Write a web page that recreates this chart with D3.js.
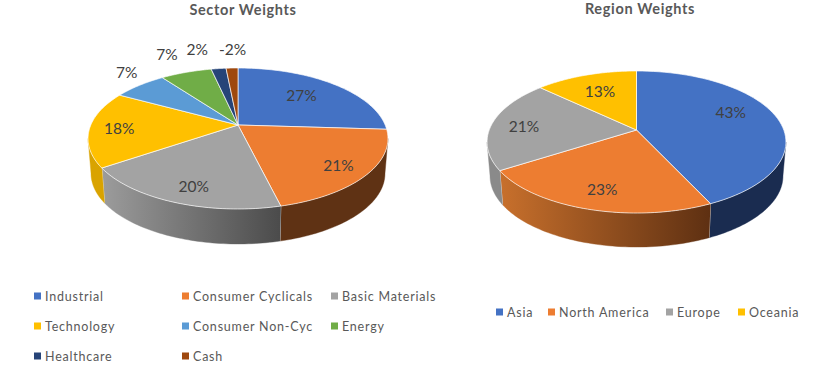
<!DOCTYPE html>
<html><head><meta charset="utf-8">
<script src="https://cdnjs.cloudflare.com/ajax/libs/d3/7.8.5/d3.min.js"></script>
<style>html,body{margin:0;padding:0;background:#fff}svg{display:block}</style>
</head><body><svg id="c" width="819" height="372"></svg>
<script>
const sectorNames = ["Industrial","Consumer Cyclicals","Basic Materials","Technology","Consumer Non-Cyc","Energy","Healthcare","Cash"];
const sectorValues = [27,21,20,18.2,7.2,6.9,2,-1.6];
const sectorColors = ["#4472C4","#ED7D31","#A3A3A3","#FFC000","#5B9BD5","#70AD47","#264478","#9E480E"];
const regionNames = ["Asia","North America","Europe","Oceania"];
const regionValues = [43,23,21,13];
const regionColors = ["#4472C4","#ED7D31","#A3A3A3","#FFC000"];

const svg = d3.select("#c");
const defs = svg.append("defs");
const TAU = 2*Math.PI;
const fmt = v => Math.round(v) + "%";

function grad(id, x1, x2, c1, c2){
  const g = defs.append("linearGradient").attr("id",id).attr("gradientUnits","userSpaceOnUse")
    .attr("x1",x1).attr("x2",x2).attr("y1",0).attr("y2",0);
  g.append("stop").attr("offset",0).attr("stop-color",c1);
  g.append("stop").attr("offset",1).attr("stop-color",c2);
  return `url(#${id})`;
}

function pie3d(o){
  const g = svg.append("g");
  const k = o.k, a = o.a, R = o.R;
  const proj = t => { const w = 1/(1+k*Math.cos(t)); return [o.cx+R*Math.sin(t)*w, o.cy-a*Math.cos(t)*w]; };
  const low = t => { const p = proj(t); return [o.cx+(p[0]-o.cx)*o.shrink, p[1]+o.depth]; };
  const line = d3.line();
  const arcs = d3.pie().sort(null).value(d=>Math.abs(d))(o.values);
  const samples = (s,e) => d3.range(0,61).map(i => s+(e-s)*i/60);
  const t0 = Math.acos(-k), t1 = TAU-t0;

  // walls
  arcs.forEach((d,i)=>{
    const s = Math.max(d.startAngle,t0), e = Math.min(d.endAngle,t1);
    if(e<=s) return;
    const ts = samples(s,e);
    const pts = ts.map(proj).concat(ts.slice().reverse().map(low));
    const fill = o.wall(i,proj(s)[0],proj(e)[0]);
    g.append("path").attr("d",line(pts)+"Z").attr("fill",fill)
      .attr("stroke",fill).attr("stroke-width",0.4);
    if(d.endAngle>t0 && d.endAngle<t1){
      g.append("path").attr("d",line([proj(d.endAngle),low(d.endAngle)]))
        .attr("stroke","#e8e8e8").attr("stroke-width",1).attr("fill","none");
    }
  });
  // top
  arcs.forEach((d,i)=>{
    const pts = [[o.cx,o.cy]].concat(samples(d.startAngle,d.endAngle).map(proj));
    g.append("path").attr("d",line(pts)+"Z").attr("fill",o.colors[i])
      .attr("stroke","#fff").attr("stroke-width",0.8).attr("stroke-linejoin","round").attr("stroke-opacity",0.85);
  });
  // labels
  arcs.forEach((d,i)=>{
    const m = (d.startAngle+d.endAngle)/2, p = proj(m), f = o.place[i];
    g.append("text").attr("x",o.cx+(p[0]-o.cx)*f[0]).attr("y",o.cy+(p[1]-o.cy)*f[1])
      .attr("text-anchor","middle").attr("dominant-baseline","central")
      .attr("font-family","Lato").attr("font-size",15.5).attr("fill","#404040")
      .text(fmt(o.values[i]));
  });
  svg.append("text").attr("x",o.titleX).attr("y",o.titleY).attr("text-anchor","middle")
    .attr("dominant-baseline","central").attr("font-family","Lato").attr("font-weight",700)
    .attr("font-size",14.5).attr("letter-spacing",0.65).attr("fill","#595959").text(o.title);
}

function legend(names, colors, xs, ys){
  names.forEach((n,i)=>{
    const x = xs[i], y = ys[i];
    svg.append("rect").attr("x",x).attr("y",y-3.5).attr("width",7).attr("height",7).attr("fill",colors[i]);
    svg.append("text").attr("x",x+11).attr("y",y).attr("dominant-baseline","central")
      .attr("font-family","Lato").attr("font-size",12.5).attr("letter-spacing",0.78).attr("fill","#595959").text(n);
  });
}

pie3d({values:sectorValues, colors:sectorColors, cx:238, cy:125, R:147.2, a:67.9, k:0.1915, depth:35, shrink:0.98,
  place:[[0.67,0.72],[0.78,0.8],[0.69,0.79],[0.8,1],[1.13,1.33],[1.37,1.34],[2.1,1.34],[0.92,1.33]],
  wall:(i,a,b)=> i===2 ? grad("w2",b,a,"#9c9c9c","#4b4b4b") : i===3 ? "#d9a300" : i===1 ? "#5f3214" : "#1b2c50",
  title:"Sector Weights", titleX:243, titleY:9});
pie3d({values:regionValues, colors:regionColors, cx:636.5, cy:130, R:147.3, a:69, k:0.169, depth:34, shrink:0.98,
  place:[[0.68,1.24],[0.7,0.75],[0.78,0.6],[0.72,0.72]],
  wall:(i,a,b)=> i===1 ? grad("r1",b,a,"#c8702c","#5e3012") : i===2 ? "#8a8a8a" : "#1a2c50",
  title:"Region Weights", titleX:640, titleY:8});

const colA = 34, colB = 182, colC = 331, rowA = 296, rowB = 326, rowC = 356;
legend(sectorNames, sectorColors, [colA,colB,colC,colA,colB,colC,colA,colB], [rowA,rowA,rowA,rowB,rowB,rowB,rowC,rowC]);
legend(regionNames, regionColors, [496,548,666,738], [312,312,312,312]);
</script></body></html>
